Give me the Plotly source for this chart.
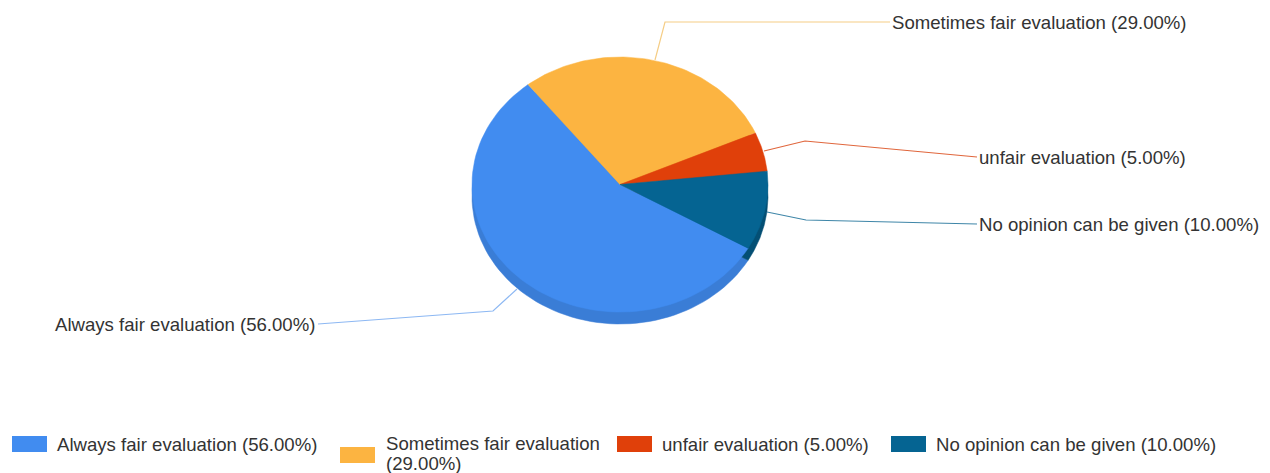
import numpy as np
import plotly.graph_objects as go

categories = ["Always fair evaluation", "Sometimes fair evaluation", "unfair evaluation", "No opinion can be given"]
values = [56, 29, 5, 10]
colors = ["#418CF0", "#FCB441", "#E0400A", "#056492"]
side_colors = ["#3A7DD6", "#E0A03A", "#C83909", "#044F74"]

# pie is tilted, so it is an ellipse on a pixel axis
cx, cy = 620, 184.5
rx, ry = 148, 127.5
depth = 12
start_angle = -30

# the page body has an 8px margin, the axes start there
page_margin = 8

# label text anchor, then leader line
label_pos = [(55, 324), (892, 22), (979, 157), (979, 224)]
leader_x = [[517, 493, 318], [655, 665, 890], [764, 805, 977], [767, 806, 977]]
leader_y = [[289, 311, 324], [60, 22, 22], [151, 141, 157], [212, 220, 224]]
leader_colors = ["#8DB8F3", "#F5CD85", "#E0663C", "#3F86A8"]

# legend swatch x, swatch y, text x, text y of first line
legend_pos = [(12, 436, 57, 444), (340, 447, 386, 443), (617, 436, 662, 444), (891, 436, 936, 444)]
legend_line_gap = 20


def wedge(a0, a1, dy=0):
    t = np.radians(np.linspace(a0, a1, 80))
    x = np.concatenate([[cx], cx + rx * np.cos(t), [cx]])
    y = np.concatenate([[cy + dy], cy + dy - ry * np.sin(t), [cy + dy]])
    return x, y


fig = go.Figure()

fractions = np.cumsum([0] + values) / sum(values)
angles = start_angle - fractions * 360

# side wall first, top face over it
for i, name in enumerate(categories):
    x, y = wedge(angles[i], angles[i + 1], depth)
    fig.add_trace(go.Scatter(x=x, y=y, mode="lines", fill="toself", fillcolor=side_colors[i],
                             line=dict(color=side_colors[i], width=0.5), hoverinfo="skip", showlegend=False))

for i, name in enumerate(categories):
    x, y = wedge(angles[i], angles[i + 1])
    fig.add_trace(go.Scatter(x=x, y=y, mode="lines", fill="toself", fillcolor=colors[i], name=name,
                             line=dict(color=colors[i], width=0.5), hoverinfo="name", showlegend=False))

for i in range(len(categories)):
    fig.add_trace(go.Scatter(x=leader_x[i], y=leader_y[i], mode="lines",
                             line=dict(color=leader_colors[i], width=1.2), hoverinfo="skip", showlegend=False))

font = dict(family="Liberation Sans", size=18.6, color="#333333")

for i, name in enumerate(categories):
    text = f"{name} ({values[i]:.2f}%)"
    fig.add_annotation(x=label_pos[i][0], y=label_pos[i][1], text=text, showarrow=False,
                       xanchor="left", yanchor="middle", font=font, xshift=-2)

    sx, sy, tx, ty = legend_pos[i]
    fig.add_shape(type="rect", x0=sx, x1=sx + 35, y0=sy, y1=sy + 16, fillcolor=colors[i], line_width=0)
    # the second entry wraps in the reference
    lines = [name, f"({values[i]:.2f}%)"] if i == 1 else [text]
    for j, line in enumerate(lines):
        fig.add_annotation(x=tx, y=ty + j * legend_line_gap, text=line, showarrow=False,
                           xanchor="left", yanchor="middle", font=font, xshift=-2)

fig.update_layout(
    width=1270 - page_margin,
    height=473 - page_margin,
    margin=dict(l=0, r=0, t=0, b=0),
    paper_bgcolor="white",
    plot_bgcolor="white",
    showlegend=False,
    xaxis=dict(range=[page_margin, 1270], visible=False, fixedrange=True),
    yaxis=dict(range=[473, page_margin], visible=False, fixedrange=True),
)

fig.write_html("out.html")
